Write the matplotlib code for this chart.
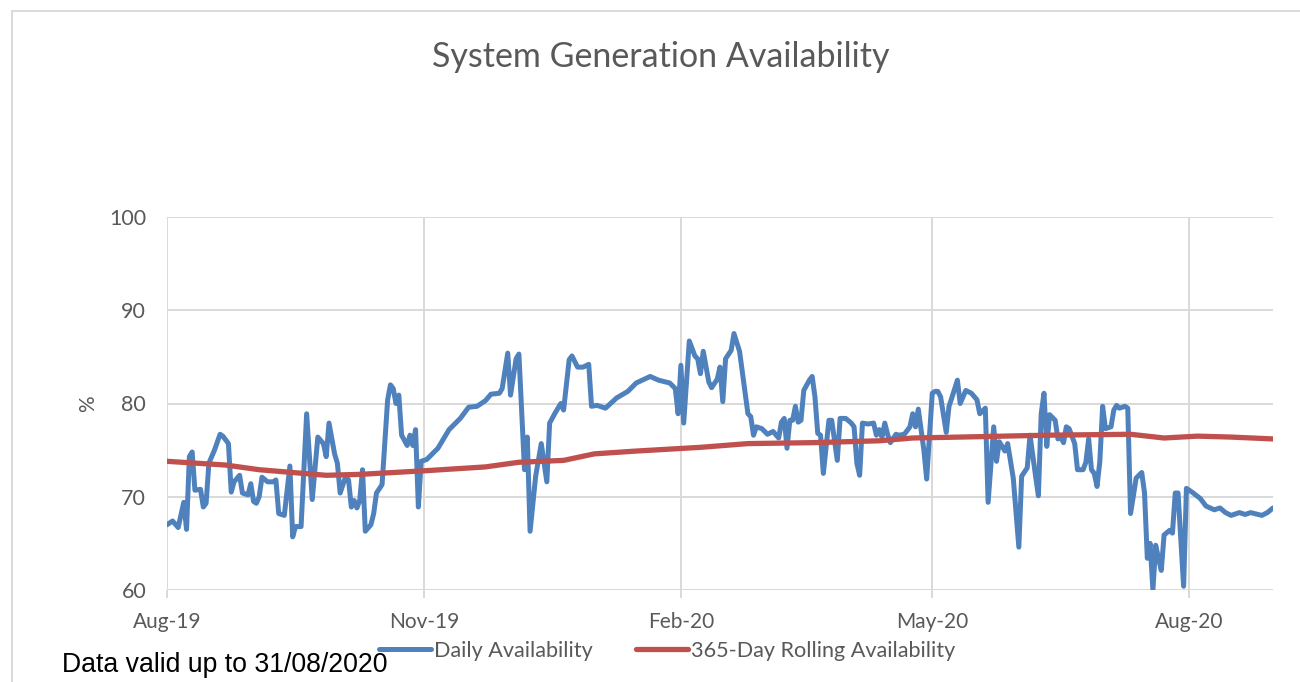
import numpy as np
import pandas as pd
import matplotlib
matplotlib.use("Agg")
import matplotlib.pyplot as plt
import matplotlib.dates as mdates
from matplotlib.patches import Rectangle

# day offsets from 1 Aug 2019 and readings (%)
start = pd.Timestamp("2019-08-01")
end = pd.Timestamp("2020-08-31")

daily_day = [0, 2, 4, 6, 7, 8, 9, 10, 12, 13, 14, 15, 17, 19, 20, 22, 23, 24, 26, 27,
             29, 30, 31, 32, 33, 34, 36, 38, 39, 40, 42, 44, 45, 46, 48, 50, 52, 54, 56, 57,
             58, 60, 61, 62, 64, 65, 66, 67, 68, 69, 70, 71, 73, 74, 75, 77, 79, 80, 81, 82,
             83, 84, 86, 87, 88, 89, 90, 91, 93, 97, 101, 105, 108, 111, 114, 116, 119, 120, 122, 123,
             125, 126, 128, 129, 130, 132, 134, 136, 137, 139, 141, 142, 144, 145, 147, 149, 151, 152, 154, 157,
             161, 165, 168, 173, 176, 180, 182, 183, 184, 185, 187, 189, 190, 191, 192, 194, 195, 197, 198, 199,
             200, 202, 203, 205, 208, 209, 210, 211, 213, 215, 217, 219, 220, 221, 222, 223, 224, 225, 226, 227,
             228, 230, 231, 232, 233, 234, 235, 237, 238, 240, 241, 243, 245, 246, 247, 248, 249, 251, 253, 254,
             255, 256, 257, 258, 259, 261, 262, 264, 266, 267, 268, 269, 271, 272, 274, 275, 276, 277, 279, 280,
             281, 283, 284, 286, 288, 290, 291, 293, 294, 296, 297, 298, 300, 301, 303, 305, 306, 308, 309, 311,
             312, 313, 314, 315, 316, 318, 319, 320, 321, 322, 323, 325, 326, 328, 329, 330, 331, 332, 333, 334,
             335, 336, 338, 339, 340, 341, 343, 344, 345, 347, 349, 350, 351, 352, 353, 354, 355, 356, 357, 359,
             360, 361, 362, 364, 365, 367, 370, 372, 375, 377, 379, 381, 384, 386, 388, 392, 394, 396]
daily_val = [67.0, 67.4, 66.7, 69.4, 66.5, 74.3, 74.8, 70.7, 70.8, 68.9, 69.3, 73.6, 75.0, 76.7, 76.5, 75.7, 70.5, 71.6, 72.3, 70.4,
             70.2, 71.4, 69.5, 69.3, 70.0, 72.1, 71.6, 71.6, 71.8, 68.2, 68.0, 73.3, 65.7, 66.8, 66.8, 78.9, 69.7, 76.4, 75.7, 74.3,
             77.9, 74.6, 73.6, 70.4, 72.2, 71.8, 68.9, 69.6, 68.8, 69.6, 72.9, 66.3, 67.0, 68.2, 70.4, 71.3, 80.4, 82.0, 81.6, 80.0,
             80.9, 76.6, 75.5, 76.6, 75.5, 77.2, 68.9, 73.8, 74.0, 75.2, 77.2, 78.4, 79.6, 79.7, 80.3, 81.0, 81.1, 81.6, 85.4, 80.9,
             84.8, 85.3, 72.9, 76.4, 66.3, 72.2, 75.7, 71.6, 77.9, 79.0, 80.0, 79.3, 84.7, 85.1, 83.9, 83.9, 84.2, 79.7, 79.8, 79.5,
             80.6, 81.3, 82.2, 82.9, 82.5, 82.2, 81.6, 78.9, 84.1, 77.9, 86.7, 85.1, 84.8, 83.2, 85.6, 82.3, 81.7, 82.6, 83.9, 80.2,
             84.8, 85.7, 87.5, 85.6, 78.9, 78.6, 76.6, 77.5, 77.3, 76.7, 77.0, 76.3, 78.0, 78.4, 75.2, 78.2, 78.2, 79.7, 78.0, 78.2,
             81.4, 82.5, 82.9, 80.7, 76.8, 76.6, 72.5, 78.2, 78.2, 73.9, 78.4, 78.4, 77.9, 77.5, 73.6, 72.3, 77.9, 77.8, 77.9, 76.6,
             77.2, 76.4, 77.9, 76.7, 75.8, 76.7, 76.6, 76.7, 77.5, 78.9, 77.5, 79.4, 75.0, 71.9, 81.1, 81.3, 81.3, 80.7, 76.9, 79.7,
             80.6, 82.5, 80.0, 81.4, 81.1, 80.4, 78.9, 79.5, 69.4, 77.5, 73.8, 75.9, 74.9, 75.7, 72.0, 64.6, 72.2, 73.1, 76.6, 72.2,
             70.1, 78.9, 81.1, 75.4, 78.8, 78.2, 76.2, 76.4, 75.8, 77.5, 77.3, 75.7, 72.9, 72.9, 73.7, 76.2, 72.9, 72.5, 71.1, 73.8,
             79.7, 77.3, 77.5, 79.3, 79.8, 79.5, 79.7, 79.5, 68.2, 72.0, 72.6, 70.4, 63.4, 65.0, 60.0, 64.8, 63.4, 62.1, 65.9, 66.4,
             66.1, 70.4, 70.4, 60.4, 70.9, 70.5, 69.8, 69.0, 68.6, 68.8, 68.3, 68.0, 68.3, 68.1, 68.3, 68.0, 68.3, 68.8]

rolling_day = [0, 21, 33, 45, 57, 69, 81, 93, 114, 126, 142, 153, 168, 191, 208, 231,
               255, 267, 284, 315, 345, 357, 369, 381, 396]
rolling_val = [73.8, 73.4, 72.9, 72.6, 72.3, 72.4, 72.6, 72.8, 73.2, 73.7, 73.9, 74.6, 74.9, 75.3, 75.7, 75.8,
               76.0, 76.3, 76.4, 76.6, 76.7, 76.3, 76.5, 76.4, 76.2]

tick_months = ["2019-08-01", "2019-11-01", "2020-02-01", "2020-05-01", "2020-08-01"]

daily_dates = start + pd.to_timedelta(daily_day, unit="D")
rolling_dates = start + pd.to_timedelta(rolling_day, unit="D")

blue = "#4F81BD"
red = "#C0504D"
grey_txt = "#595959"
grid_c = "#D9D9D9"
font = ["Lato", "DejaVu Sans"]

fig = plt.figure(figsize=(13, 6.82), dpi=100)
ax = fig.add_axes([167 / 1300, 92 / 682, (1273 - 167) / 1300, (590 - 217) / 682])

ax.plot(daily_dates, daily_val, color=blue, lw=3.6, solid_joinstyle="round",
        solid_capstyle="round", label="Daily Availability", zorder=3)
ax.plot(rolling_dates, rolling_val, color=red, lw=3.8, solid_joinstyle="round",
        solid_capstyle="round", label="365-Day Rolling Availability", zorder=3)

ax.set_xlim(start, end)
ax.set_ylim(60, 100)
ax.set_yticks([60, 70, 80, 90, 100])
ax.set_xticks(pd.to_datetime(tick_months))
ax.xaxis.set_major_formatter(mdates.DateFormatter("%b-%y"))

ax.grid(True, color=grid_c, lw=1.4)
ax.set_axisbelow(True)
for s in ax.spines.values():
    s.set_visible(False)
ax.tick_params(axis="x", length=6, color=grid_c, width=1.4, pad=10, labelsize=15, labelcolor=grey_txt)
ax.tick_params(axis="y", length=0, pad=15, labelsize=15.5, labelcolor=grey_txt)
for lbl in ax.get_xticklabels() + ax.get_yticklabels():
    lbl.set_family(font)

ax.set_ylabel("%", fontsize=15, color=grey_txt, family=font, labelpad=8)

fig.text(661 / 1300, 1 - 57 / 682, "System Generation Availability", ha="center", va="center",
         fontsize=24.5, color=grey_txt, family=font)

leg = fig.legend(loc="center", bbox_to_anchor=(667 / 1300, 1 - 651 / 682), ncol=2, frameon=False,
                 handlelength=2.4, handletextpad=0.12, columnspacing=2.0,
                 prop={"family": font, "size": 15.6})
for t in leg.get_texts():
    t.set_color(grey_txt)

fig.text(62 / 1300, 1 - 665 / 682, "Data valid up to 31/08/2020", ha="left", va="center",
         fontsize=19.2, color="black", family=["Liberation Sans", "DejaVu Sans"])

# outer chart frame
fig.patches.append(Rectangle((12 / 1300, -0.1), 1.2, 1 - 11 / 682 + 0.1, transform=fig.transFigure,
                             fill=False, edgecolor=grid_c, lw=1.4, zorder=0))

fig.savefig("out.png", dpi=100)
